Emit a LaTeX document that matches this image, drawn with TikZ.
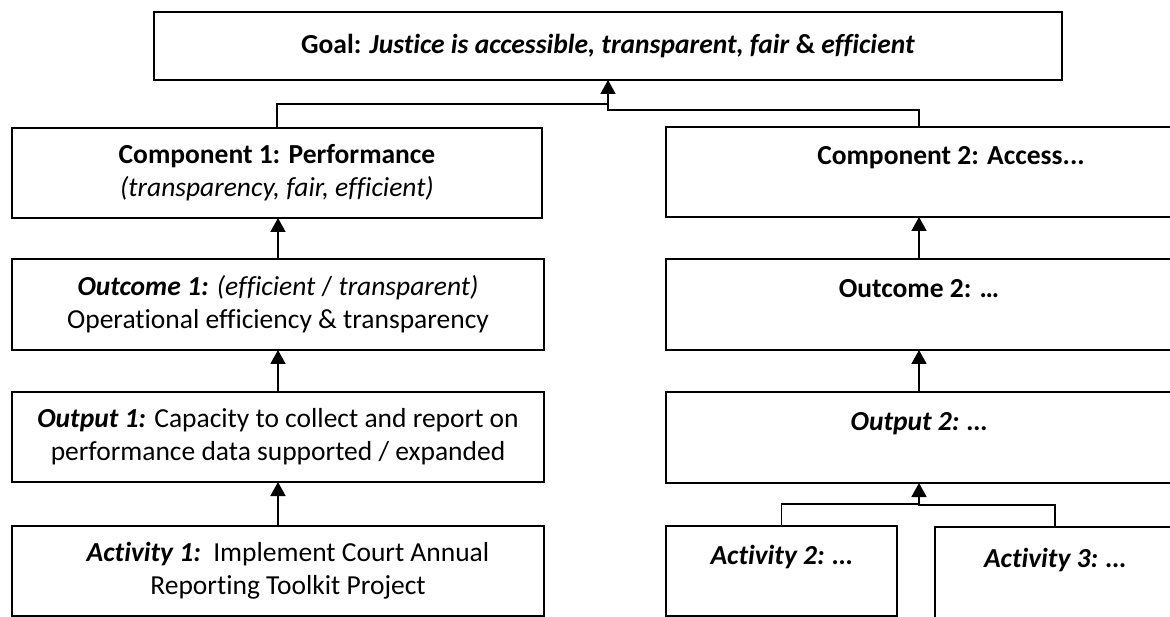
\documentclass[tikz,border=0pt]{standalone}
\usepackage{fontspec}
\setmainfont{Carlito}[Ligatures=NoCommon]
\usetikzlibrary{arrows.meta}
\begin{document}
\begin{tikzpicture}[x=1pt,y=-1pt,
  box/.style={draw=black, line width=1.8pt, inner sep=0pt, outer sep=0pt,
    anchor=north west, align=center,
    font=\fontsize{27.5}{33}\selectfont},
  wire/.style={line width=1.8pt},
  link/.style={line width=1.8pt, -{Triangle[width=15pt,length=14pt]}}]
\useasboundingbox (0,0) rectangle (1170,617);
\fill[white] (0,0) rectangle (1170,617);
\begin{scope}
\clip (0,0) rectangle (1170,617);
% goal
\node[box, minimum width=908pt, minimum height=68pt] (goal) at (154,12)
  {\textbf{Goal: \textit{Justice is accessible, transparent, fair} \& \textit{efficient}}};
% left column
\node[box, minimum width=530pt, minimum height=90pt] (c1) at (12,128)
  {\textbf{Component 1: Performance}\\\textit{(transparency, fair, efficient)}};
\node[box, minimum width=532pt, minimum height=91pt] (o1) at (12,259)
  {\textbf{\textit{Outcome 1:}} \textit{(efficient} / \textit{transparent)}\\Operational efficiency \& transparency};
\node[box, minimum width=532pt, minimum height=90pt] (p1) at (12,392)
  {\textbf{\textit{Output 1:}} Capacity to collect and report on\\performance data supported / expanded};
\node[box, minimum width=532pt, minimum height=90pt] (a1) at (12,526)
  {\hspace*{20pt}\textbf{\textit{Activity 1:}}\ \ Implement Court Annual\\\hspace*{20pt}Reporting Toolkit Project};
% right column
\node[box, minimum width=506pt, minimum height=90pt] (c2) at (666,127)
  {\hspace*{64pt}\textbf{Component 2: Access...}\\\mbox{}};
\node[box, minimum width=506pt, minimum height=91pt] (o2) at (666,259)
  {\textbf{Outcome 2: …}\\\mbox{}};
\node[box, minimum width=506pt, minimum height=91pt] (p2) at (666,392)
  {\textbf{\textit{Output 2: …}}\\\mbox{}};
\node[box, minimum width=231pt, minimum height=90pt] (a2) at (666,526)
  {\textbf{\textit{Activity 2: …}}\\\mbox{}};
\node[box, minimum width=240pt, minimum height=94pt] (a3) at (935,527)
  {\textbf{\textit{Activity 3: …}}\\\mbox{}};
\end{scope}
% junction points
\coordinate (gjl) at (608,104);
\coordinate (gjr) at (608,110);
\coordinate (ajl) at (919,504);
\coordinate (ajr) at (919,505);
% connectors
\draw[wire] (c1.north) |- (gjl);
\draw[link] (c2.north) |- (gjr) -- (goal.south);
\draw[link] (o1.north) -- (o1.north |- c1.south);
\draw[link] (p1.north) -- (p1.north |- o1.south);
\draw[link] (a1.north) -- (a1.north |- p1.south);
\draw[link] (o2.north) -- (o2.north |- c2.south);
\draw[link] (p2.north) -- (p2.north |- o2.south);
\draw[wire] (a2.north) |- (ajl);
\draw[link] (a3.north) |- (ajr) -- (p2.south);
\end{tikzpicture}
\end{document}
